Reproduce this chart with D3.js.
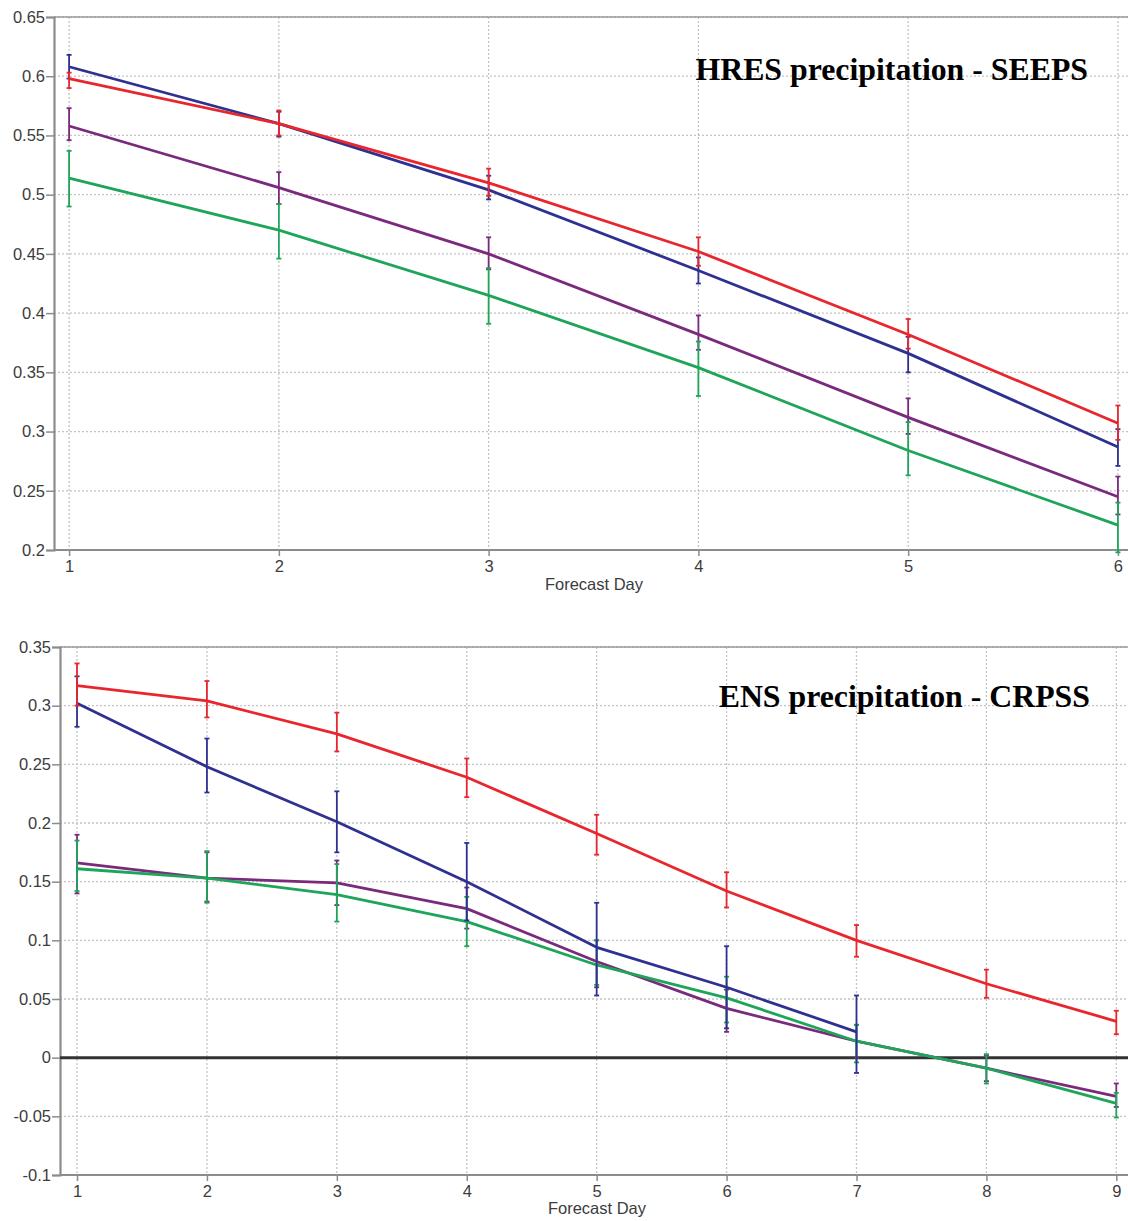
<!DOCTYPE html>
<html>
<head>
<meta charset="utf-8">
<script src="https://cdn.jsdelivr.net/npm/d3@7"></script>
<style>
  body { margin: 0; background: #fff; }
  svg { display: block; }
</style>
</head>
<body>
<svg id="chart" width="1128" height="1221"></svg>
<script>
// ---- HRES precipitation - SEEPS (top panel) ----
const daysTop = [1, 2, 3, 4, 5, 6];
const topTicksY = [0.2, 0.25, 0.3, 0.35, 0.4, 0.45, 0.5, 0.55, 0.6, 0.65];

const redTop = [0.598, 0.560, 0.510, 0.452, 0.382, 0.307];
const redTopLo = [0.590, 0.550, 0.499, 0.440, 0.370, 0.293];
const redTopHi = [0.603, 0.571, 0.522, 0.464, 0.395, 0.322];
const blueTop = [0.608, 0.560, 0.504, 0.436, 0.366, 0.287];
const blueTopLo = [0.598, 0.549, 0.496, 0.425, 0.350, 0.271];
const blueTopHi = [0.618, 0.570, 0.516, 0.447, 0.380, 0.302];
const purpleTop = [0.558, 0.506, 0.450, 0.382, 0.312, 0.245];
const purpleTopLo = [0.546, 0.492, 0.437, 0.369, 0.298, 0.230];
const purpleTopHi = [0.573, 0.519, 0.464, 0.398, 0.328, 0.262];
const greenTop = [0.514, 0.470, 0.415, 0.354, 0.284, 0.221];
const greenTopLo = [0.490, 0.446, 0.391, 0.330, 0.263, 0.198];
const greenTopHi = [0.537, 0.492, 0.438, 0.376, 0.308, 0.240];

// ---- ENS precipitation - CRPSS (bottom panel) ----
const daysBot = [1, 2, 3, 4, 5, 6, 7, 8, 9];
const botTicksY = [-0.1, -0.05, 0, 0.05, 0.1, 0.15, 0.2, 0.25, 0.3, 0.35];

const redBot = [0.317, 0.304, 0.276, 0.239, 0.191, 0.142, 0.100, 0.063, 0.031];
const redBotLo = [0.300, 0.290, 0.261, 0.222, 0.173, 0.128, 0.086, 0.051, 0.020];
const redBotHi = [0.336, 0.321, 0.294, 0.255, 0.207, 0.158, 0.113, 0.075, 0.040];
const blueBot = [0.302, 0.248, 0.201, 0.150, 0.094, 0.060, 0.022];
const blueBotLo = [0.282, 0.226, 0.175, 0.117, 0.053, 0.025, -0.013];
const blueBotHi = [0.325, 0.272, 0.227, 0.183, 0.132, 0.095, 0.053];
const purpleBot = [0.166, 0.153, 0.149, 0.127, 0.082, 0.042, 0.014, -0.009, -0.033];
const purpleBotLo = [0.140, 0.133, 0.130, 0.110, 0.060, 0.022, 0.000, -0.020, -0.042];
const purpleBotHi = [0.190, 0.175, 0.168, 0.145, 0.100, 0.058, 0.028, 0.002, -0.022];
const greenBot = [0.161, 0.153, 0.139, 0.116, 0.079, 0.051, 0.014, -0.009, -0.039];
const greenBotLo = [0.142, 0.132, 0.116, 0.095, 0.062, 0.030, -0.004, -0.022, -0.051];
const greenBotHi = [0.185, 0.176, 0.165, 0.137, 0.100, 0.069, 0.028, 0.003, -0.030];

const COLORS = { red: "#e8262d", blue: "#2e3190", purple: "#7a2a7c", green: "#1ea55a" };

const svg = d3.select("#chart");
const fmt = v => String(+v.toFixed(2)).replace("\u2212", "-");

function series(color, days, vals, lo, hi) {
	return {
		color,
		points: vals.map((v, i) => ({ day: days[i], v, lo: lo[i], hi: hi[i] }))
	};
}

function panel(cfg) {
	const { left, right, top, bottom, xDomain, yDomain, yTicks, days, lines, title, titleY, xLabelY, zeroLine } = cfg;

	const x = d3.scaleLinear().domain(xDomain).range([left, right]);
	const y = d3.scaleLinear().domain(yDomain).range([bottom, top]);

	const g = svg.append("g");

	// grid
	g.append("g")
		.selectAll("line")
		.data(yTicks)
		.join("line")
		.attr("x1", left).attr("x2", right)
		.attr("y1", d => y(d)).attr("y2", d => y(d))
		.attr("stroke", "#c4c4c4")
		.attr("stroke-width", 1.3)
		.attr("stroke-dasharray", "2,2");

	g.append("g")
		.selectAll("line")
		.data(days)
		.join("line")
		.attr("x1", d => x(d)).attr("x2", d => x(d))
		.attr("y1", top).attr("y2", bottom)
		.attr("stroke", "#c4c4c4")
		.attr("stroke-width", 1.3)
		.attr("stroke-dasharray", "2,2");

	// top frame line
	g.append("line")
		.attr("x1", left).attr("x2", right)
		.attr("y1", top).attr("y2", top)
		.attr("stroke", "#9a9a9a")
		.attr("stroke-width", 1.5);

	// axes
	const yAxis = g.append("g")
		.attr("transform", `translate(${left},0)`)
		.call(d3.axisLeft(y).tickValues(yTicks).tickFormat(fmt).tickSize(8).tickPadding(1));
	const xAxis = g.append("g")
		.attr("transform", `translate(0,${bottom})`)
		.call(d3.axisBottom(x).tickValues(days).tickFormat(d3.format("d")).tickSize(6).tickPadding(4));

	[yAxis, xAxis].forEach(a => {
		a.select(".domain").attr("stroke", "#8c8c8c").attr("stroke-width", 2.2);
		a.selectAll(".tick line").attr("stroke", "#8c8c8c").attr("stroke-width", 1.5);
		a.selectAll(".tick text")
			.attr("fill", "#3c3c3c")
			.style("font-family", "Liberation Sans, Arial, sans-serif")
			.style("font-size", "16.5px");
	});
	xAxis.select(".domain").attr("d", `M${left},0H${right}`);

	g.append("text")
		.attr("x", cfg.xLabelX)
		.attr("y", xLabelY)
		.attr("text-anchor", "middle")
		.attr("fill", "#3c3c3c")
		.style("font-family", "Liberation Sans, Arial, sans-serif")
		.style("font-size", "16.5px")
		.text("Forecast Day");

	if (zeroLine) {
		g.append("line")
			.attr("x1", left).attr("x2", right)
			.attr("y1", y(0)).attr("y2", y(0))
			.attr("stroke", "#333")
			.attr("stroke-width", 3);
	}

	const line = d3.line().x(d => x(d.day)).y(d => y(d.v));

	lines.forEach(s => {
		const sg = g.append("g");
		sg.append("path")
			.datum(s.points)
			.attr("fill", "none")
			.attr("stroke", s.color)
			.attr("stroke-width", 2.8)
			.attr("stroke-linejoin", "round")
			.attr("d", line);

		const eb = sg.selectAll("g").data(s.points).join("g");
		eb.append("line")
			.attr("x1", d => x(d.day)).attr("x2", d => x(d.day))
			.attr("y1", d => y(d.lo)).attr("y2", d => y(d.hi))
			.attr("stroke", s.color).attr("stroke-width", 1.8);
		["lo", "hi"].forEach(k => {
			eb.append("line")
				.attr("x1", d => x(d.day) - 2.5).attr("x2", d => x(d.day) + 2.5)
				.attr("y1", d => y(d[k])).attr("y2", d => y(d[k]))
				.attr("stroke", s.color).attr("stroke-width", 1.8);
		});
	});

	g.append("text")
		.attr("x", cfg.titleX)
		.attr("y", titleY)
		.attr("text-anchor", "end")
		.attr("fill", "#000")
		.style("font-family", "Liberation Serif, Times New Roman, serif")
		.style("font-weight", "bold")
		.style("font-size", "31.8px")
		.text(title);
}

panel({
	left: 54, right: 1128, top: 17, bottom: 550,
	xDomain: [0.928, 6.048], yDomain: [0.2, 0.65], yTicks: topTicksY, days: daysTop,
	lines: [
		series(COLORS.purple, daysTop, purpleTop, purpleTopLo, purpleTopHi),
		series(COLORS.green, daysTop, greenTop, greenTopLo, greenTopHi),
		series(COLORS.blue, daysTop, blueTop, blueTopLo, blueTopHi),
		series(COLORS.red, daysTop, redTop, redTopLo, redTopHi)
	],
	title: "HRES precipitation - SEEPS", titleX: 1088, titleY: 80,
	xLabelX: 594, xLabelY: 590
});

panel({
	left: 60, right: 1128, top: 647, bottom: 1175,
	xDomain: [0.869, 9.09], yDomain: [-0.1, 0.35], yTicks: botTicksY, days: daysBot,
	zeroLine: true,
	lines: [
		series(COLORS.purple, daysBot, purpleBot, purpleBotLo, purpleBotHi),
		series(COLORS.green, daysBot, greenBot, greenBotLo, greenBotHi),
		series(COLORS.blue, daysBot, blueBot, blueBotLo, blueBotHi),
		series(COLORS.red, daysBot, redBot, redBotLo, redBotHi)
	],
	title: "ENS precipitation - CRPSS", titleX: 1090, titleY: 707,
	xLabelX: 597, xLabelY: 1214
});
</script>
</body>
</html>
